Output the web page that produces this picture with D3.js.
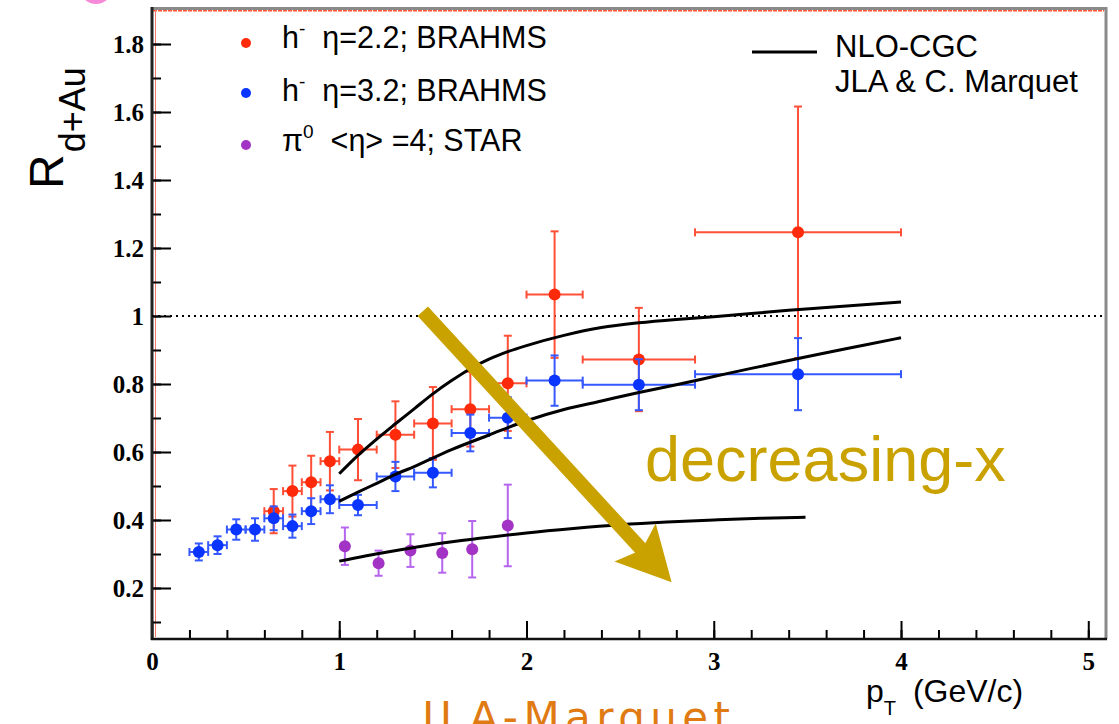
<!DOCTYPE html>
<html>
<head>
<meta charset="utf-8">
<script src="https://cdn.jsdelivr.net/npm/d3@7"></script>
<style>
  body { margin: 0; background: #fff; }
  svg { display: block; }
  .tick text { font-family: "Liberation Serif", serif; font-weight: bold; font-size: 25px; fill: #000; }
</style>
</head>
<body>
<div id="chart"></div>
<script>
// h- eta=2.2 BRAHMS
var redX  = [0.65, 0.75, 0.85, 0.95, 1.1, 1.3, 1.5, 1.7, 1.9, 2.15, 2.6, 3.45];
var redY  = [0.426, 0.485, 0.511, 0.573, 0.607, 0.651, 0.684, 0.726, 0.802, 1.063, 0.872, 1.246];
var redEY = [0.065, 0.075, 0.078, 0.086, 0.09, 0.098, 0.107, 0.11, 0.14, 0.186, 0.152, 0.37];
var redEX = [0.05, 0.05, 0.05, 0.05, 0.1, 0.1, 0.1, 0.1, 0.1, 0.15, 0.3, 0.55];

// h- eta=3.2 BRAHMS
var blueX  = [0.25, 0.35, 0.45, 0.55, 0.65, 0.75, 0.85, 0.95, 1.1, 1.3, 1.5, 1.7, 1.9, 2.15, 2.6, 3.45];
var blueY  = [0.306, 0.326, 0.372, 0.372, 0.405, 0.382, 0.426, 0.461, 0.444, 0.528, 0.539, 0.656, 0.701, 0.81, 0.798, 0.829];
var blueEY = [0.025, 0.026, 0.03, 0.033, 0.035, 0.034, 0.038, 0.041, 0.03, 0.043, 0.043, 0.054, 0.06, 0.074, 0.075, 0.106];
var blueEX = [0.05, 0.05, 0.05, 0.05, 0.05, 0.05, 0.05, 0.05, 0.1, 0.1, 0.1, 0.1, 0.1, 0.15, 0.3, 0.55];

// pi0 <eta>=4 STAR
var pionX  = [1.03, 1.21, 1.38, 1.55, 1.71, 1.9];
var pionY  = [0.323, 0.273, 0.31, 0.303, 0.314, 0.384];
var pionEY = [0.055, 0.037, 0.048, 0.058, 0.083, 0.12];

// NLO-CGC curves
var cgc1X = [1.0, 1.1, 1.2, 1.3, 1.4, 1.5, 1.6, 1.7, 1.8, 1.9, 2.0, 2.2, 2.4, 2.6, 2.8, 3.0, 3.2, 3.4, 3.6, 3.8, 4.0];
var cgc1Y = [0.536, 0.59, 0.638, 0.683, 0.727, 0.771, 0.81, 0.845, 0.873, 0.895, 0.913, 0.943, 0.966, 0.98, 0.99, 0.998, 1.007, 1.017, 1.025, 1.033, 1.041];
var cgc2X = [1.0, 1.1, 1.2, 1.3, 1.4, 1.6, 1.8, 2.0, 2.2, 2.4, 2.6, 2.8, 3.0, 3.2, 3.4, 3.6, 3.8, 4.0];
var cgc2Y = [0.455, 0.482, 0.508, 0.534, 0.557, 0.607, 0.65, 0.692, 0.725, 0.75, 0.775, 0.798, 0.822, 0.846, 0.869, 0.892, 0.914, 0.936];
var cgc3X = [1.0, 1.25, 1.5, 1.75, 2.0, 2.25, 2.5, 2.75, 3.0, 3.25, 3.49];
var cgc3Y = [0.279, 0.305, 0.328, 0.346, 0.362, 0.375, 0.386, 0.394, 0.4, 0.405, 0.408];

var xTicks = [0, 1, 2, 3, 4, 5];
var xTickLabels = ["0", "1", "2", "3", "4", "5"];
var yTicks = [0.2, 0.4, 0.6, 0.8, 1.0, 1.2, 1.4, 1.6, 1.8];
var yTickLabels = ["0.2", "0.4", "0.6", "0.8", "1", "1.2", "1.4", "1.6", "1.8"];

// arrow annotation (data coords): start, tip
var arrowFrom = [1.446, 1.014];
var arrowTo = [2.775, 0.217];

var W = 1119, H = 724;
var gold = "#c9a200";
var sans = "Liberation Sans, Arial, sans-serif";

var svg = d3.select("#chart").append("svg")
  .attr("width", W).attr("height", H);

var x = d3.scaleLinear().domain([0, 5.1]).range([152, 1107]);
var y = d3.scaleLinear().domain([0.05, 1.9]).range([639, 10]);

// pink scribble at the top
svg.append("ellipse")
  .attr("cx", 96).attr("cy", -16).attr("rx", 16).attr("ry", 18)
  .attr("fill", "none").attr("stroke", "#f48ad8").attr("stroke-width", 4);

// frame
svg.append("path")
  .attr("d", "M152,8.5 H1106 V639")
  .attr("fill", "none").attr("stroke", "#8a8a8a").attr("stroke-width", 3);
svg.append("line")
  .attr("x1", 153).attr("x2", 1104).attr("y1", 10.8).attr("y2", 10.8)
  .attr("stroke", "#ff5533").attr("stroke-width", 1.5).attr("stroke-dasharray", "4 1");
svg.append("line")
  .attr("x1", 155.5).attr("x2", 155.5).attr("y1", 10).attr("y2", 637)
  .attr("stroke", "#f07a66").attr("stroke-width", 1);

// minor ticks
svg.append("g")
  .attr("transform", "translate(152,0)")
  .call(d3.axisLeft(y).tickValues(d3.range(0.1, 1.9, 0.1)).tickSize(-9).tickFormat(""))
  .call(g => g.select(".domain").remove())
  .selectAll("line").attr("stroke", "#000").attr("stroke-width", 2);
svg.append("g")
  .attr("transform", "translate(0,639)")
  .call(d3.axisBottom(x).tickValues(d3.range(0.2, 5.05, 0.2)).tickSize(-9).tickFormat(""))
  .call(g => g.select(".domain").remove())
  .selectAll("line").attr("stroke", "#000").attr("stroke-width", 2);

// major ticks + labels
var yAxis = svg.append("g")
  .attr("transform", "translate(152,0)")
  .call(d3.axisLeft(y).tickValues(yTicks).tickSize(-19).tickPadding(8)
    .tickFormat((d, i) => yTickLabels[i]));
yAxis.select(".domain").remove();
yAxis.selectAll("line").attr("stroke", "#000").attr("stroke-width", 2);

var xAxis = svg.append("g")
  .attr("transform", "translate(0,639)")
  .call(d3.axisBottom(x).tickValues(xTicks).tickSize(-18).tickPadding(13)
    .tickFormat((d, i) => xTickLabels[i]));
xAxis.select(".domain").remove();
xAxis.selectAll("line").attr("stroke", "#000").attr("stroke-width", 2);

// axis lines
svg.append("line").attr("x1", 152).attr("x2", 152).attr("y1", 7).attr("y2", 640)
  .attr("stroke", "#222").attr("stroke-width", 3);
svg.append("line").attr("x1", 151).attr("x2", 1107).attr("y1", 639).attr("y2", 639)
  .attr("stroke", "#111").attr("stroke-width", 2.5);

// dotted line at 1
svg.append("line")
  .attr("x1", x(0)).attr("x2", 1104).attr("y1", y(1)).attr("y2", y(1))
  .attr("stroke", "#000").attr("stroke-width", 2).attr("stroke-dasharray", "2 4");

// error bars helper
function drawSeries(xs, ys, eys, exs, dotColor, barColor) {
  var g = svg.append("g");
  var cap = 4;
  xs.forEach(function (xv, i) {
    var px = x(xv), py = y(ys[i]);
    var top = y(ys[i] + eys[i]), bot = y(ys[i] - eys[i]);
    g.append("line").attr("x1", px).attr("x2", px).attr("y1", top).attr("y2", bot)
      .attr("stroke", barColor).attr("stroke-width", 2);
    g.append("line").attr("x1", px - cap).attr("x2", px + cap).attr("y1", top).attr("y2", top)
      .attr("stroke", barColor).attr("stroke-width", 2);
    g.append("line").attr("x1", px - cap).attr("x2", px + cap).attr("y1", bot).attr("y2", bot)
      .attr("stroke", barColor).attr("stroke-width", 2);
    if (exs) {
      var l = x(xv - exs[i]), r = x(xv + exs[i]);
      g.append("line").attr("x1", l).attr("x2", r).attr("y1", py).attr("y2", py)
        .attr("stroke", barColor).attr("stroke-width", 2);
      g.append("line").attr("x1", l).attr("x2", l).attr("y1", py - cap).attr("y2", py + cap)
        .attr("stroke", barColor).attr("stroke-width", 2);
      g.append("line").attr("x1", r).attr("x2", r).attr("y1", py - cap).attr("y2", py + cap)
        .attr("stroke", barColor).attr("stroke-width", 2);
    }
  });
  g.selectAll("circle").data(xs).join("circle")
    .attr("cx", d => x(d)).attr("cy", (d, i) => y(ys[i])).attr("r", 6)
    .attr("fill", dotColor);
}

drawSeries(redX, redY, redEY, redEX, "#ff2a0a", "#ff4f36");
drawSeries(blueX, blueY, blueEY, blueEX, "#0a34ff", "#3558ff");
drawSeries(pionX, pionY, pionEY, null, "#a333c4", "#b565ee");

// curves
var line = d3.line().x(d => x(d[0])).y(d => y(d[1])).curve(d3.curveMonotoneX);
[[cgc1X, cgc1Y], [cgc2X, cgc2Y], [cgc3X, cgc3Y]].forEach(function (c) {
  svg.append("path")
    .datum(c[0].map((v, i) => [v, c[1][i]]))
    .attr("d", line)
    .attr("fill", "none").attr("stroke", "#000").attr("stroke-width", 3);
});

// legend (data series)
var legend = [
  { color: "#ff2a0a", sup: "-", base: "h", rest: "\u00a0\u00a0\u03b7=2.2; BRAHMS", dotY: 43, textY: 48 },
  { color: "#0a34ff", sup: "-", base: "h", rest: "\u00a0\u00a0\u03b7=3.2; BRAHMS", dotY: 93, textY: 101 },
  { color: "#a333c4", sup: "0", base: "\u03c0", rest: "\u00a0\u00a0<\u03b7> =4; STAR", dotY: 145, textY: 151 }
];
legend.forEach(function (d) {
  svg.append("circle").attr("cx", 246).attr("cy", d.dotY).attr("r", 5).attr("fill", d.color);
  var t = svg.append("text").attr("x", 282).attr("y", d.textY)
    .attr("font-family", sans).attr("font-size", 30.5).attr("fill", "#000");
  t.append("tspan").text(d.base);
  t.append("tspan").attr("dy", -13).attr("font-size", 19).text(d.sup);
  t.append("tspan").attr("dy", 13).text(d.rest);
});

// legend (curve)
svg.append("line").attr("x1", 752).attr("x2", 817).attr("y1", 52).attr("y2", 52)
  .attr("stroke", "#000").attr("stroke-width", 3);
svg.append("text").attr("x", 835).attr("y", 57)
  .attr("font-family", sans).attr("font-size", 31).text("NLO-CGC");
svg.append("text").attr("x", 835).attr("y", 92)
  .attr("font-family", sans).attr("font-size", 31).text("JLA & C. Marquet");

// y title
var yt = svg.append("text")
  .attr("transform", "translate(63,189) rotate(-90)")
  .attr("font-family", sans).attr("fill", "#000");
yt.append("tspan").attr("font-size", 48).text("R");
yt.append("tspan").attr("font-size", 36).attr("dy", 22).attr("dx", 2).text("d+Au");

// x title
var xt = svg.append("text").attr("x", 866).attr("y", 702)
  .attr("font-family", sans).attr("fill", "#000");
xt.append("tspan").attr("font-size", 32).text("p");
xt.append("tspan").attr("font-size", 20).attr("dy", 13).text("T");
xt.append("tspan").attr("font-size", 32).attr("dy", -13).attr("dx", 8).text(" (GeV/c)");

// decreasing-x annotation
svg.append("text").attr("x", 645).attr("y", 481)
  .attr("font-family", sans).attr("font-size", 63)
  .attr("fill", gold).text("decreasing-x");

var ax0 = x(arrowFrom[0]), ay0 = y(arrowFrom[1]);
var ax1 = x(arrowTo[0]), ay1 = y(arrowTo[1]);
var dx = ax1 - ax0, dy = ay1 - ay0, len = Math.sqrt(dx * dx + dy * dy);
var ux = dx / len, uy = dy / len, nx = -uy, ny = ux;
var headLen = 54, headHalf = 28, notch = 44;
var bx = ax1 - ux * headLen, by = ay1 - uy * headLen;
var kx = ax1 - ux * notch, ky = ay1 - uy * notch;
svg.append("line")
  .attr("x1", ax0).attr("y1", ay0).attr("x2", kx).attr("y2", ky)
  .attr("stroke", gold).attr("stroke-width", 14);
svg.append("path")
  .attr("d", "M" + ax1 + "," + ay1 +
    " L" + (bx + nx * headHalf) + "," + (by + ny * headHalf) +
    " L" + kx + "," + ky +
    " L" + (bx - nx * headHalf) + "," + (by - ny * headHalf) + " Z")
  .attr("fill", gold);

// orange caption at the bottom (cut by the page edge, as in the source)
svg.append("text").attr("x", 422).attr("y", 732)
  .attr("font-family", "DejaVu Sans, sans-serif")
  .attr("font-size", 42).attr("fill", "#e07a12")
  .attr("textLength", 308).attr("lengthAdjust", "spacing")
  .text("JLA-Marquet");
</script>
</body>
</html>
